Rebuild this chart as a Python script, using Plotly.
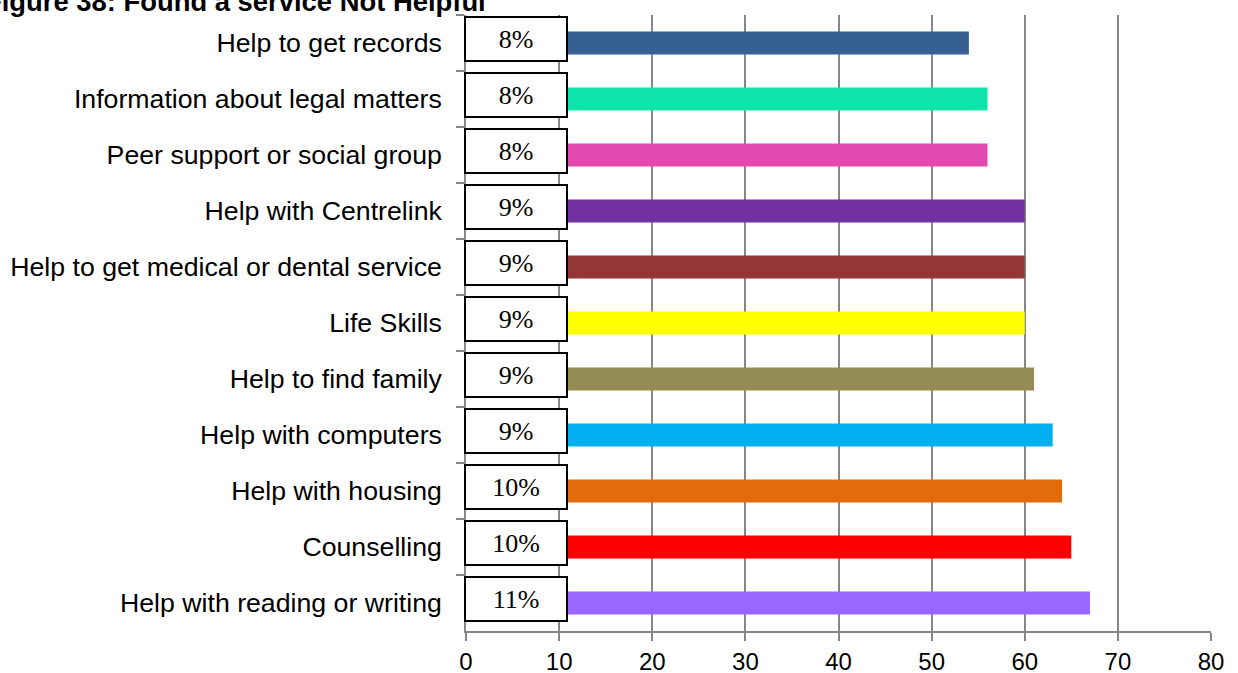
import plotly.graph_objects as go

categories = [
    "Help to get records",
    "Information about legal matters",
    "Peer support or social group",
    "Help with Centrelink",
    "Help to get medical or dental service",
    "Life Skills",
    "Help to find family",
    "Help with computers",
    "Help with housing",
    "Counselling",
    "Help with reading or writing",
]
counts = [54, 56, 56, 60, 60, 60, 61, 63, 64, 65, 67]
percent_labels = ["8%", "8%", "8%", "9%", "9%", "9%", "9%", "9%", "10%", "10%", "11%"]
bar_colors = ["#376092", "#0EE4AA", "#E349AF", "#7030A0", "#943634", "#FFFF00",
              "#948A54", "#00B0F0", "#E36C0A", "#FF0000", "#9966FF"]
x_ticks = [0, 10, 20, 30, 40, 50, 60, 70, 80]
title_text = "Figure 38: Found a service Not Helpful"

fig = go.Figure()
fig.add_trace(go.Bar(
    x=counts, y=categories, orientation="h",
    marker=dict(color=bar_colors, line=dict(width=0)),
    width=0.41, showlegend=False, hoverinfo="x+y",
))

for cat, lab in zip(categories, percent_labels):
    fig.add_annotation(
        x=0, y=cat, xref="x", yref="y", xanchor="left", yanchor="middle",
        xshift=-2, yshift=4,
        text=lab, showarrow=False,
        font=dict(family="Liberation Serif", size=26, color="#000"),
        width=98, height=40, align="center", valign="middle",
        bgcolor="white", bordercolor="black", borderwidth=2, borderpad=1,
    )

fig.add_annotation(
    x=0, y=1, xref="paper", yref="paper", xanchor="left", yanchor="bottom",
    xshift=-483, yshift=-4, text="<b>" + title_text + "</b>", showarrow=False,
    font=dict(family="Liberation Sans", size=27.4, color="#000"),
)

fig.update_layout(
    width=1238, height=673,
    margin=dict(l=466, r=27, t=15, b=42),
    paper_bgcolor="white", plot_bgcolor="white",
    font=dict(family="Liberation Sans", color="#000"),
    bargap=0.59,
)
fig.update_xaxes(
    range=[0, 80], tickvals=x_ticks, showgrid=True, gridcolor="#868686", gridwidth=1.6,
    showline=True, linecolor="#868686", linewidth=1.6,
    ticks="outside", ticklen=8, tickcolor="#868686", tickwidth=1.6,
    tickfont=dict(size=24, color="#000"), zeroline=False, automargin=False,
)
fig.update_yaxes(
    categoryorder="array", categoryarray=categories, autorange="reversed",
    showgrid=False, showline=True, linecolor="#868686", linewidth=1.6,
    ticks="outside", tickson="boundaries", ticklen=8, tickcolor="#868686", tickwidth=1.6,
    tickfont=dict(size=26.7, color="#000"), ticklabelstandoff=17, automargin=False,
)

fig.write_html("out.html", post_script="document.body.style.margin='0';",
               config={"displayModeBar": False})
